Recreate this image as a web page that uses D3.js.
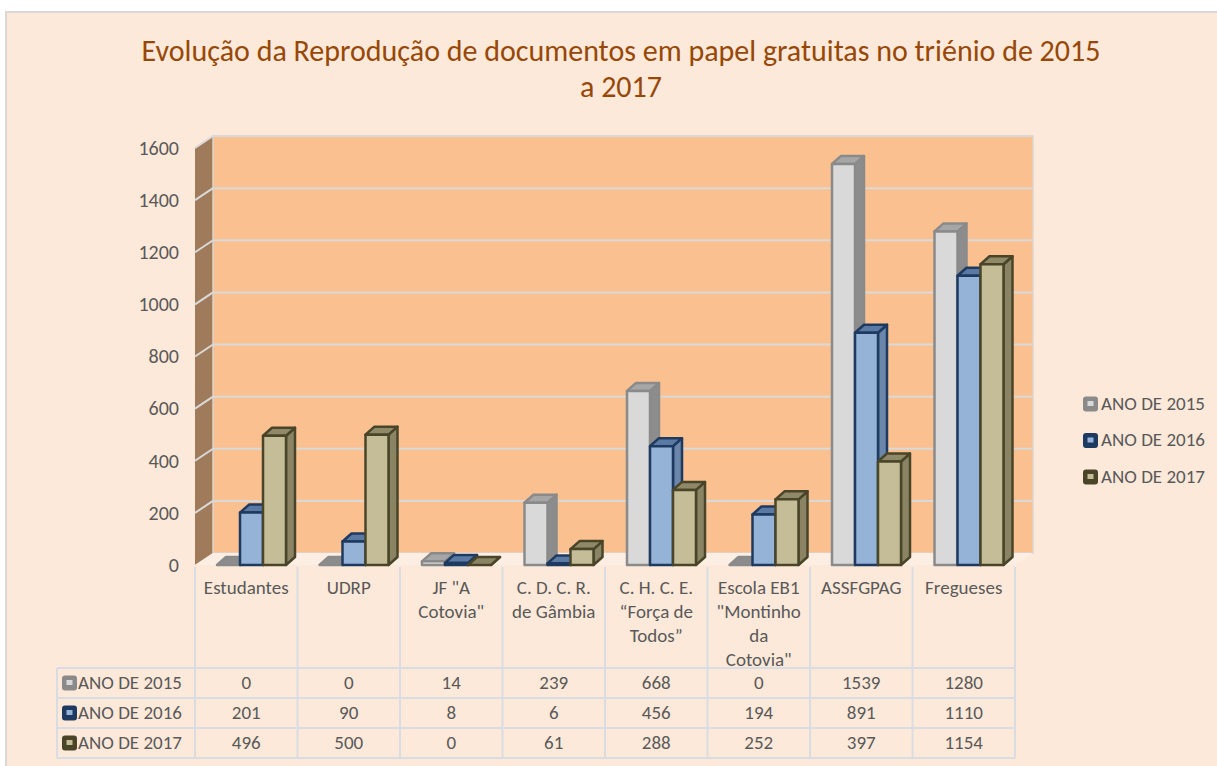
<!DOCTYPE html>
<html>
<head>
<meta charset="utf-8">
<script src="https://cdn.jsdelivr.net/npm/d3@7"></script>
<style>
  body { margin: 0; background: #ffffff; }
  svg { display: block; }
  text { font-family: Carlito, Lato, sans-serif; }
</style>
</head>
<body>
<div id="chart"></div>
<script>
// chart values
var categories = [
    ["Estudantes"],
    ["UDRP"],
    ["JF \"A", "Cotovia\""],
    ["C. D. C. R.", "de Gâmbia"],
    ["C. H. C. E.", "\u201CForça de", "Todos\u201D"],
    ["Escola EB1", "\"Montinho", "da", "Cotovia\""],
    ["ASSFGPAG"],
    ["Fregueses"]
];
var seriesNames = ["ANO DE 2015", "ANO DE 2016", "ANO DE 2017"];
var values2015 = [0, 0, 14, 239, 668, 0, 1539, 1280];
var values2016 = [201, 90, 8, 6, 456, 194, 891, 1110];
var values2017 = [496, 500, 0, 61, 288, 252, 397, 1154];
var yTicks = [0, 200, 400, 600, 800, 1000, 1200, 1400, 1600];

var seriesValues = [values2015, values2016, values2017];
// colours per series: front face, outline, side face, top face
var seriesColors = [
    {front: "#d9d9d9", stroke: "#8a8a8a", side: "#8c8c8c", top: "#a6a6a6"},
    {front: "#95b3d7", stroke: "#1f3a60", side: "#6a86ab", top: "#5b7aa3"},
    {front: "#c4bd97", stroke: "#4a4529", side: "#8a8464", top: "#8f8967"}
];

var W = 1217, H = 766;
var svg = d3.select("#chart").append("svg").attr("width", W).attr("height", H);

// chart area background
svg.append("rect").attr("x", 6).attr("y", 12).attr("width", W).attr("height", H)
    .attr("fill", "#fde9d9").attr("stroke", "#d9d9d9").attr("stroke-width", 2);

// title
var title = svg.append("text").attr("text-anchor", "middle").attr("fill", "#974806")
    .attr("font-size", "30px");
title.append("tspan").attr("x", 621).attr("y", 61)
    .text("Evolução da Reprodução de documentos em papel gratuitas no triénio de 2015");
title.append("tspan").attr("x", 621).attr("y", 97).text("a 2017");

/**************** scales ****************************/
var wallDx = 18, wallDy = -12;   // depth of the walls
var barDx = 9, barDy = -8;       // depth of one column
var x = d3.scaleBand().domain(d3.range(categories.length)).range([195, 1015]);
var xs = d3.scaleBand().domain(d3.range(seriesNames.length)).range([22, 91]);
var y = d3.scaleLinear().domain([0, 1600]).range([565, 148]);

var x0 = x.range()[0], x1 = x.range()[1];
var yb = y(0), yt = y(1600);

// left wall
svg.append("polygon")
    .attr("points", [[x0, yb], [x0 + wallDx, yb + wallDy], [x0 + wallDx, yt + wallDy], [x0, yt]].join(" "))
    .attr("fill", "#a07b5b");
// back wall
svg.append("rect").attr("x", x0 + wallDx).attr("y", yt + wallDy)
    .attr("width", x1 - x0).attr("height", yb - yt)
    .attr("fill", "#fac090").attr("stroke", "#dcd3cc").attr("stroke-width", 1.5);
// floor
svg.append("polygon")
    .attr("points", [[x0, yb], [x0 + wallDx, yb + wallDy], [x1 + wallDx, yb + wallDy], [x1, yb]].join(" "))
    .attr("fill", "#fdeee4");

// gridlines on back and left wall
var grid = svg.append("g").attr("stroke", "#d9d9d9").attr("stroke-width", 2);
grid.selectAll("line.back").data(yTicks.slice(1)).enter().append("line").attr("class", "back")
    .attr("x1", x0 + wallDx).attr("x2", x1 + wallDx)
    .attr("y1", function(d) { return y(d) + wallDy; })
    .attr("y2", function(d) { return y(d) + wallDy; });
grid.selectAll("line.side").data(yTicks.slice(1)).enter().append("line").attr("class", "side")
    .attr("x1", x0).attr("x2", x0 + wallDx)
    .attr("y1", function(d) { return y(d); })
    .attr("y2", function(d) { return y(d) + wallDy; });

// y axis labels
svg.append("g").selectAll("text").data(yTicks).enter().append("text")
    .attr("x", 179).attr("y", function(d) { return y(d) + 2; })
    .attr("text-anchor", "end").attr("dominant-baseline", "middle")
    .attr("fill", "#595959").attr("font-size", "20px")
    .text(function(d) { return d; });

/**************** 3d columns ****************************/
var bars = svg.append("g");
categories.forEach(function(c, i) {
    seriesValues.forEach(function(vals, s) {
        var col = seriesColors[s];
        var bx = x(i) + xs(s), bw = xs.bandwidth();
        var ty = y(vals[i]), by = y(0);
        var g = bars.append("g").attr("stroke", col.stroke).attr("stroke-width", 2.5)
            .attr("stroke-linejoin", "round");
        g.append("polygon")
            .attr("points", [[bx + bw, by], [bx + bw + barDx, by + barDy], [bx + bw + barDx, ty + barDy], [bx + bw, ty]].join(" "))
            .attr("fill", col.side);
        g.append("polygon")
            .attr("points", [[bx, ty], [bx + barDx, ty + barDy], [bx + bw + barDx, ty + barDy], [bx + bw, ty]].join(" "))
            .attr("fill", vals[i] === 0 ? col.side : col.top);
        if (by - ty > 0.5) {
            g.append("rect").attr("x", bx).attr("y", ty).attr("width", bw).attr("height", by - ty)
                .attr("fill", col.front);
        }
    });
});

/**************** data table ****************************/
var tableLeft = 57, rowTop = 668, rowH = 30;
var table = svg.append("g");
var tl = table.append("g").attr("stroke", "#d9dde3").attr("stroke-width", 2);
// vertical lines
tl.selectAll("line.v").data(d3.range(categories.length + 1)).enter().append("line").attr("class", "v")
    .attr("x1", function(d) { return x0 + d * x.bandwidth(); })
    .attr("x2", function(d) { return x0 + d * x.bandwidth(); })
    .attr("y1", yb + 2).attr("y2", rowTop + rowH * 3);
// horizontal lines
tl.selectAll("line.h").data(d3.range(4)).enter().append("line").attr("class", "h")
    .attr("x1", tableLeft).attr("x2", x1)
    .attr("y1", function(d) { return rowTop + d * rowH; })
    .attr("y2", function(d) { return rowTop + d * rowH; });
tl.append("line").attr("x1", tableLeft).attr("x2", tableLeft).attr("y1", rowTop).attr("y2", rowTop + rowH * 3);

// category headers
categories.forEach(function(c, i) {
    var t = table.append("text").attr("text-anchor", "middle").attr("fill", "#595959")
        .attr("font-size", "19px");
    c.forEach(function(line, k) {
        t.append("tspan").attr("x", x(i) + x.bandwidth() / 2).attr("y", 594 + k * 24).text(line);
    });
});

// rows
seriesNames.forEach(function(name, s) {
    var cy = rowTop + s * rowH + rowH / 2;
    var col = seriesColors[s];
    table.append("rect").attr("x", 62).attr("y", cy - 7.5).attr("width", 15).attr("height", 15)
        .attr("rx", 3).attr("fill", col.stroke);
    table.append("rect").attr("x", 66.5).attr("y", cy - 3).attr("width", 6).attr("height", 5)
        .attr("fill", col.front);
    table.append("text").attr("x", 78).attr("y", cy + 1).attr("dominant-baseline", "middle")
        .attr("fill", "#595959").attr("font-size", "19px").text(name);
    table.selectAll(null).data(seriesValues[s]).enter().append("text")
        .attr("x", function(d, i) { return x(i) + x.bandwidth() / 2; })
        .attr("y", cy + 1).attr("text-anchor", "middle").attr("dominant-baseline", "middle")
        .attr("fill", "#595959").attr("font-size", "19px")
        .text(function(d) { return d; });
});

/**************** legend ****************************/
var legend = svg.append("g");
seriesNames.forEach(function(name, s) {
    var cy = 404 + s * 36.5;
    var col = seriesColors[s];
    legend.append("rect").attr("x", 1083).attr("y", cy - 7.5).attr("width", 15).attr("height", 15)
        .attr("rx", 3).attr("fill", col.stroke);
    legend.append("rect").attr("x", 1087.5).attr("y", cy - 3).attr("width", 6).attr("height", 5)
        .attr("fill", col.front);
    legend.append("text").attr("x", 1101).attr("y", cy + 1).attr("dominant-baseline", "middle")
        .attr("fill", "#595959").attr("font-size", "19px").text(name);
});
</script>
</body>
</html>
